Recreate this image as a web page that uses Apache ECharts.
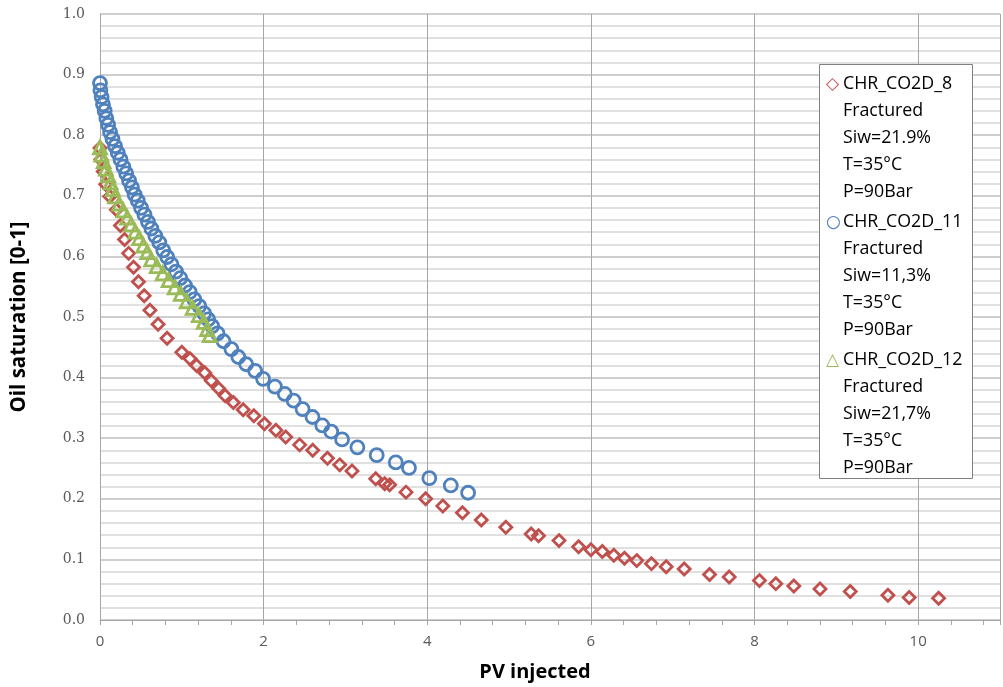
<!DOCTYPE html>
<html>
<head>
<meta charset="utf-8">
<script src="https://cdn.jsdelivr.net/npm/echarts@6/dist/echarts.min.js"></script>
<style>
html,body{margin:0;padding:0;background:#fff;}
#chart{width:1003px;height:687px;}
</style>
</head>
<body>
<div id="chart"></div>
<script>
// ---- data ----
const seriesNames = ['CHR_CO2D_8', 'CHR_CO2D_11', 'CHR_CO2D_12'];
const legendDetails = [
  ['Fractured', 'Siw=21.9%', 'T=35\u00B0C', 'P=90Bar'],
  ['Fractured', 'Siw=11,3%', 'T=35\u00B0C', 'P=90Bar'],
  ['Fractured', 'Siw=21,7%', 'T=35\u00B0C', 'P=90Bar']
];

const redX = [0.00,0.01,0.04,0.07,0.12,0.20,0.25,0.30,0.35,0.41,0.47,0.54,0.61,0.71,0.82,1.00,1.10,1.18,1.28,1.36,1.45,1.53,1.63,1.75,1.88,2.01,2.15,2.27,2.44,2.60,2.78,2.93,3.08,3.37,3.48,3.54,3.74,3.98,4.19,4.43,4.66,4.96,5.27,5.36,5.61,5.85,6.00,6.14,6.28,6.41,6.56,6.74,6.92,7.14,7.45,7.69,8.06,8.26,8.48,8.80,9.17,9.63,9.89,10.25];
const redY = [0.779,0.760,0.740,0.719,0.699,0.677,0.651,0.628,0.605,0.582,0.558,0.535,0.511,0.488,0.465,0.442,0.431,0.420,0.408,0.395,0.382,0.370,0.359,0.347,0.337,0.324,0.313,0.302,0.289,0.280,0.267,0.256,0.246,0.233,0.225,0.223,0.211,0.200,0.188,0.177,0.165,0.153,0.142,0.139,0.131,0.121,0.116,0.113,0.107,0.102,0.098,0.093,0.088,0.084,0.075,0.071,0.065,0.060,0.056,0.051,0.047,0.041,0.037,0.036];

const blueX = [0.000,0.005,0.020,0.036,0.057,0.077,0.099,0.123,0.152,0.184,0.217,0.251,0.285,0.320,0.355,0.390,0.423,0.461,0.502,0.543,0.586,0.628,0.676,0.725,0.773,0.821,0.873,0.928,0.982,1.039,1.097,1.153,1.213,1.273,1.322,1.371,1.437,1.510,1.606,1.691,1.787,1.896,1.993,2.138,2.258,2.367,2.476,2.597,2.717,2.826,2.959,3.146,3.382,3.615,3.776,4.025,4.287,4.499];
const blueY = [0.886,0.874,0.863,0.851,0.840,0.828,0.817,0.805,0.794,0.782,0.771,0.760,0.748,0.737,0.725,0.714,0.702,0.692,0.680,0.669,0.657,0.646,0.634,0.623,0.610,0.599,0.587,0.575,0.564,0.552,0.541,0.529,0.518,0.506,0.496,0.485,0.473,0.460,0.447,0.434,0.422,0.411,0.398,0.385,0.373,0.362,0.348,0.335,0.321,0.311,0.298,0.285,0.272,0.260,0.251,0.234,0.222,0.210];

const greenX = [0.000,0.016,0.045,0.072,0.100,0.129,0.157,0.185,0.234,0.284,0.333,0.381,0.431,0.480,0.530,0.578,0.626,0.694,0.767,0.839,0.913,0.987,1.060,1.133,1.208,1.268,1.310,1.341];
const greenY = [0.780,0.768,0.757,0.745,0.734,0.722,0.711,0.699,0.687,0.676,0.664,0.653,0.641,0.630,0.618,0.607,0.595,0.584,0.572,0.561,0.549,0.538,0.526,0.515,0.503,0.492,0.480,0.470];

const xTickValues = [0, 2, 4, 6, 8, 10];
const yTickLabels = ['0.0','0.1','0.2','0.3','0.4','0.5','0.6','0.7','0.8','0.9','1.0'];

// ---- chart ----
const colors = ['#C0504D', '#4F81BD', '#9BBB59'];
const symbols = ['diamond', 'circle', 'triangle'];
const sizes = [12, 13, 13];
const iconChars = ['\u25C7', '\u25CB', '\u25B3'];
const xs = [redX, blueX, greenX];
const ys = [redY, blueY, greenY];

const chart = echarts.init(document.getElementById('chart'), null, {renderer: 'canvas'});

const LH = 26.8;
const rich = {
  sp: {width: 17},
  t: {fontFamily: 'Open Sans', fontSize: 17.8, color: '#000', lineHeight: LH}
};
colors.forEach((c, i) => {
  rich['ic' + i] = {width: 17, color: c, fontFamily: 'DejaVu Sans', fontSize: 17, fontWeight: 'bold', lineHeight: LH};
});

const option = {
  animation: false,
  backgroundColor: '#fff',
  grid: {left: 100, top: 14, right: -8, bottom: 65, containLabel: false},
  graphic: [{
    type: 'rect', left: 819, top: 64, z: 5,
    shape: {width: 153, height: 414},
    style: {fill: '#fff', stroke: '#808080', lineWidth: 1}
  }],
  legend: {
    orient: 'vertical',
    left: 820, top: 66,
    padding: [5, 0, 2, 0],
    itemGap: 4,
    itemWidth: 0, itemHeight: 0,
    selectedMode: false,
    z: 10,
    data: seriesNames,
    textStyle: {rich: rich, lineHeight: LH},
    formatter: function (name) {
      const i = seriesNames.indexOf(name);
      let s = '{ic' + i + '|' + iconChars[i] + '}{t|' + name + '}';
      legendDetails[i].forEach(l => { s += '\n{sp|}{t|' + l + '}'; });
      return s;
    }
  },
  xAxis: {
    type: 'value', min: 0, max: 11, interval: 2,
    name: 'PV injected', nameLocation: 'middle', nameGap: 42,
    nameTextStyle: {fontFamily: 'Open Sans', fontWeight: 'bold', fontSize: 20, color: '#000', padding: [0, 30, 0, 0]},
    axisLine: {show: true, lineStyle: {color: '#a6a6a6', width: 1}},
    axisTick: {show: true, length: 5, lineStyle: {color: '#a6a6a6'}},
    minorTick: {show: true, splitNumber: 5, length: 5, lineStyle: {color: '#a6a6a6'}},
    axisLabel: {
      margin: 14, fontFamily: 'Open Sans', fontSize: 15, color: '#595959',
      formatter: v => xTickValues.indexOf(v) >= 0 ? String(v) : ''
    },
    splitLine: {show: true, lineStyle: {color: '#a6a6a6', width: 1}},
    minorSplitLine: {show: false}
  },
  yAxis: {
    type: 'value', min: 0, max: 1, interval: 0.1,
    name: 'Oil saturation [0-1]', nameLocation: 'middle', nameGap: 70,
    nameTextStyle: {fontFamily: 'Open Sans', fontWeight: 'bold', fontSize: 20.5, color: '#000'},
    axisLine: {show: true, lineStyle: {color: '#a6a6a6', width: 1}},
    axisTick: {show: false},
    axisLabel: {
      margin: 15, fontFamily: 'DejaVu Serif', fontSize: 14, color: '#595959',
      formatter: v => yTickLabels[Math.round(v * 10)]
    },
    splitLine: {show: true, lineStyle: {color: '#bfbfbf', width: 1.5}},
    minorSplitLine: {show: true, lineStyle: {color: '#d6d6d6', width: 1.5}},
    minorTick: {show: false, splitNumber: 5}
  },
  series: seriesNames.map((n, i) => ({
    name: n,
    type: 'scatter',
    symbol: symbols[i],
    symbolSize: sizes[i],
    data: xs[i].map((x, k) => [x, ys[i][k]]),
    itemStyle: {color: 'rgba(255,255,255,0)', borderColor: colors[i], borderWidth: 2.8, opacity: 1},
    emphasis: {disabled: true}
  }))
};
chart.setOption(option);
</script>
</body>
</html>
